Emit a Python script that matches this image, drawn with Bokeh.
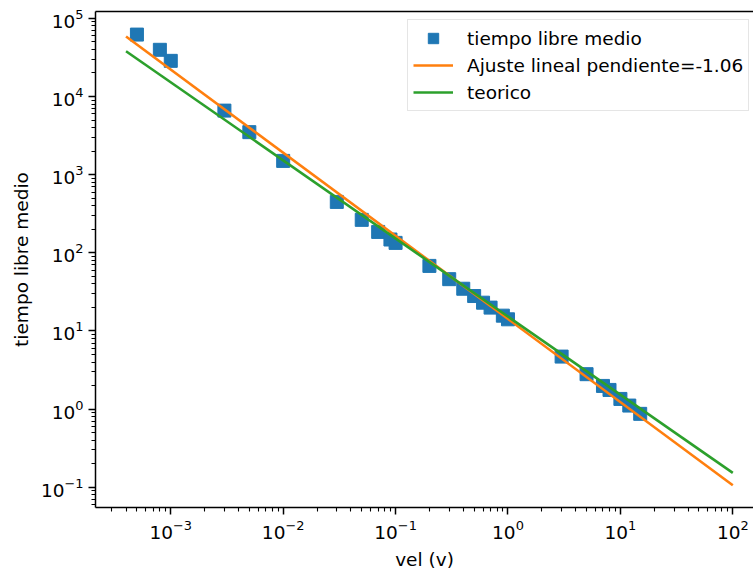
from bokeh.plotting import figure
from bokeh.models import FixedTicker, LogTickFormatter, Legend, LegendItem, LogAxis
from bokeh.embed import file_html
from bokeh.resources import INLINE

# data
vel = [5e-4, 8e-4, 1e-3, 3e-3, 5e-3, 1e-2, 3e-2, 5e-2, 7e-2, 9e-2, 0.1,
       0.2, 0.3, 0.4, 0.5, 0.6, 0.7, 0.9, 1.0, 3.0, 5.0, 7.0, 8.0, 10.0, 12.0, 15.0]
tiempo = [6.2e4, 3.96e4, 2.86e4, 6.6e3, 3.5e3, 1.5e3, 448, 264, 185, 148, 134,
          68, 46, 34.7, 28, 23, 19.9, 15.7, 14.1, 4.7, 2.8, 1.98, 1.76, 1.35, 1.11, 0.87]

fit_x = [4e-4, 100.0]
fit_y = [5.87e4, 0.106]
teo_x = [4e-4, 100.0]
teo_y = [3.8e4, 0.153]

x_major = [1e-3, 1e-2, 1e-1, 1e0, 1e1, 1e2]
y_major = [1e-1, 1e0, 1e1, 1e2, 1e3, 1e4, 1e5]
x_minor = [m * 10.0 ** e for e in range(-4, 3) for m in range(2, 10)]
y_minor = [m * 10.0 ** e for e in range(-2, 5) for m in range(2, 10)]

FONT = "DejaVu Sans"
FS = "18.5px"
BLUE, ORANGE, GREEN = "#1f77b4", "#ff7f0e", "#2ca02c"

p = figure(width=753, height=572, x_axis_type="log", y_axis_type="log",
           x_range=(2.14e-4, 152.8), y_range=(0.0551, 1.224e5),
           output_backend="svg", toolbar_location=None,
           min_border_left=95, min_border_right=0, min_border_top=11, min_border_bottom=64)
p.xgrid.visible = False
p.ygrid.visible = False
p.outline_line_color = None
p.background_fill_color = "white"
p.border_fill_color = "white"

r_pts = p.scatter(vel, tiempo, marker="square", size=13, color=BLUE)
r_fit = p.line(fit_x, fit_y, line_width=2.6, color=ORANGE)
r_teo = p.line(teo_x, teo_y, line_width=2.6, color=GREEN)

p.xaxis.ticker = FixedTicker(ticks=x_major, minor_ticks=x_minor)
p.yaxis.ticker = FixedTicker(ticks=y_major, minor_ticks=y_minor)
for ax in (p.xaxis[0], p.yaxis[0]):
    ax.formatter = LogTickFormatter()
    ax.axis_line_width = 1.5
    ax.axis_line_color = "black"
    ax.major_tick_line_color = "black"
    ax.minor_tick_line_color = "black"
    ax.major_tick_line_width = 1.5
    ax.minor_tick_line_width = 1.1
    ax.major_tick_out = 7
    ax.major_tick_in = 0
    ax.minor_tick_out = 4
    ax.minor_tick_in = 0
    ax.major_label_text_font = FONT
    ax.major_label_text_font_size = FS
    ax.major_label_text_color = "black"
    ax.axis_label_text_font = FONT
    ax.axis_label_text_font_size = FS
    ax.axis_label_text_font_style = "normal"
    ax.axis_label_text_color = "black"
    ax.major_label_standoff = 5

p.xaxis.axis_label = "vel (v)"
p.yaxis.axis_label = "tiempo libre medio"
p.xaxis.axis_label_standoff = 7
p.yaxis.axis_label_standoff = 6

top = LogAxis(ticker=FixedTicker(ticks=[]), axis_line_width=1.5, axis_line_color="black",
              major_tick_line_color=None, minor_tick_line_color=None,
              major_label_text_font_size="0px")
p.add_layout(top, "above")

legend = Legend(items=[LegendItem(label="tiempo libre medio", renderers=[r_pts]),
                       LegendItem(label="Ajuste lineal pendiente=-1.06", renderers=[r_fit]),
                       LegendItem(label="teorico", renderers=[r_teo])],
                location=(312, 396), margin=0, padding=5, spacing=1,
                glyph_width=40, glyph_height=26, label_height=26, label_standoff=14,
                label_text_font=FONT, label_text_font_size=FS, label_text_color="black",
                border_line_color="#cccccc", border_line_width=1.3,
                background_fill_color="white", background_fill_alpha=0.8)
p.add_layout(legend)

open("out.html", "w").write(file_html(p, INLINE))
